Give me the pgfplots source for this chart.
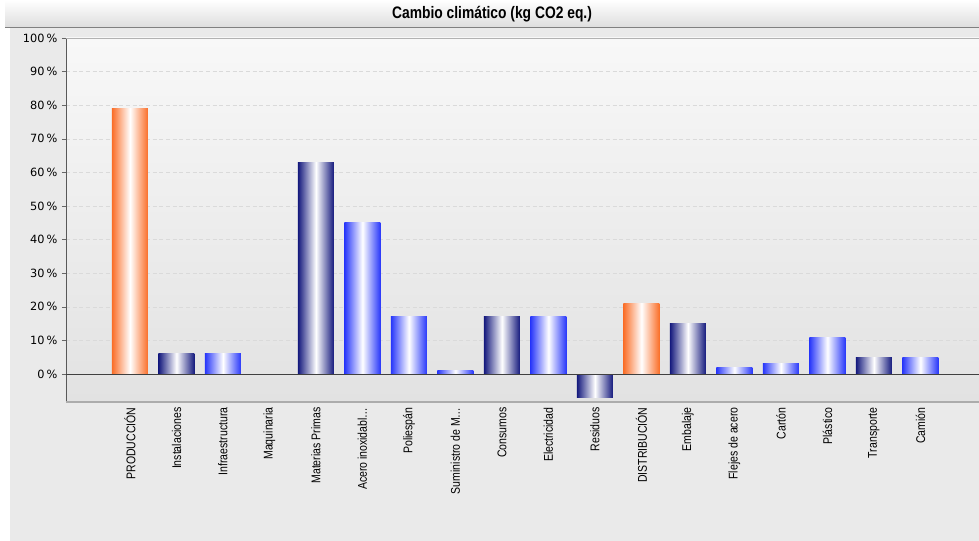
\documentclass[border=0pt]{standalone}
\usepackage{pgfplots}
\pgfplotsset{compat=1.18}
\usepackage{fontspec}
\setmainfont{Liberation Sans}
\newfontfamily\dejavu{DejaVu Sans}
\newfontfamily\narrow[FakeStretch=0.83]{Liberation Sans}
\definecolor{orangeB}{RGB}{250,110,40}
\definecolor{navyB}{RGB}{20,25,125}
\definecolor{blueB}{RGB}{40,55,250}
\definecolor{bgtop}{RGB}{248,248,248}
\definecolor{bgbot}{RGB}{226,226,226}
\definecolor{panel}{RGB}{234,234,234}
\pgfplotsset{
  bo/.style={ybar, bar width=27pt, bar shift=0pt, draw=none, left color=orangeB, right color=orangeB, middle color=white},
  bn/.style={ybar, bar width=27pt, bar shift=0pt, draw=none, left color=navyB, right color=navyB, middle color=white},
  bb/.style={ybar, bar width=27pt, bar shift=0pt, draw=none, left color=blueB, right color=blueB, middle color=white},
}
\begin{document}
\begin{tikzpicture}
\path[use as bounding box] (0pt,0pt) rectangle (734.25pt,405.75pt);
\fill[white] (0pt,0pt) rectangle (734.25pt,405.75pt);
\fill[panel] (7.5pt,0pt) rectangle (734.25pt,385.5pt);
\shade[top color=white, bottom color={rgb,255:red,222;green,222;blue,222}] (3.75pt,385.5pt) rectangle (734.25pt,405.75pt);
\draw[gray] (3.75pt,385.5pt) -- (734.25pt,385.5pt);
\node[font=\narrow\bfseries\fontsize{12.5}{14}\selectfont] at (369pt,395.25pt) {Cambio climático (kg CO2 eq.)};
\begin{axis}[
  at={(49.5pt,104.25pt)}, anchor=south west, scale only axis,
  width=684.75pt, height=273pt,
  xmin=-1.376, xmax=18.26, ymin=-8.33, ymax=100,
  axis line style={draw=none},
  axis background/.style={top color=bgtop, bottom color=bgbot},
  xtick={0,...,17},
  xticklabels={PRODUCCIÓN,Instalaciones,Infraestructura,Maquinaria,Materias Primas,Acero inoxidabl\ldots,Poliespán,Suministro de M\ldots,Consumos,Electricidad,Residuos,DISTRIBUCIÓN,Embalaje,Flejes de acero,Cartón,Plástico,Transporte,Camión},
  xticklabel style={rotate=90, anchor=east, inner sep=1pt, font=\narrow\fontsize{9.5}{11}\selectfont},
  x tick style={draw=none},
  ytick={0,10,...,100},
  /pgf/number format/assume math mode=true,
  yticklabel={\pgfmathprintnumber{\tick}\,\%},
  yticklabel style={font=\dejavu\fontsize{8.5}{10}\selectfont},
  ytick pos=left, tick align=outside, major tick length=3pt,
  y tick style={gray!80!black},
  ymajorgrids, grid style={densely dashed, color={rgb,255:red,218;green,218;blue,218}},
  clip=false,
]
\addplot[bo] coordinates {(0,79)};
\addplot[bn] coordinates {(1,6)};
\addplot[bb] coordinates {(2,6)};
\addplot[bn] coordinates {(3,0)};
\addplot[bn] coordinates {(4,63)};
\addplot[bb] coordinates {(5,45)};
\addplot[bb] coordinates {(6,17)};
\addplot[bb] coordinates {(7,1)};
\addplot[bn] coordinates {(8,17)};
\addplot[bb] coordinates {(9,17)};
\addplot[bn] coordinates {(10,-7)};
\addplot[bo] coordinates {(11,21)};
\addplot[bn] coordinates {(12,15)};
\addplot[bb] coordinates {(13,2)};
\addplot[bb] coordinates {(14,3)};
\addplot[bb] coordinates {(15,11)};
\addplot[bn] coordinates {(16,5)};
\addplot[bb] coordinates {(17,5)};
\draw[gray!70!black, line width=0.6pt] (rel axis cs:0,0) -- (rel axis cs:0,1);
\draw[gray!60] (rel axis cs:0,1) -- (rel axis cs:1,1);
\draw[gray!65, line width=1.4pt] (rel axis cs:0,0) -- (rel axis cs:1,0);
\draw[black!75, line width=0.7pt] (axis cs:-1.376,0) -- (axis cs:18.26,0);
\end{axis}
\end{tikzpicture}
\end{document}
